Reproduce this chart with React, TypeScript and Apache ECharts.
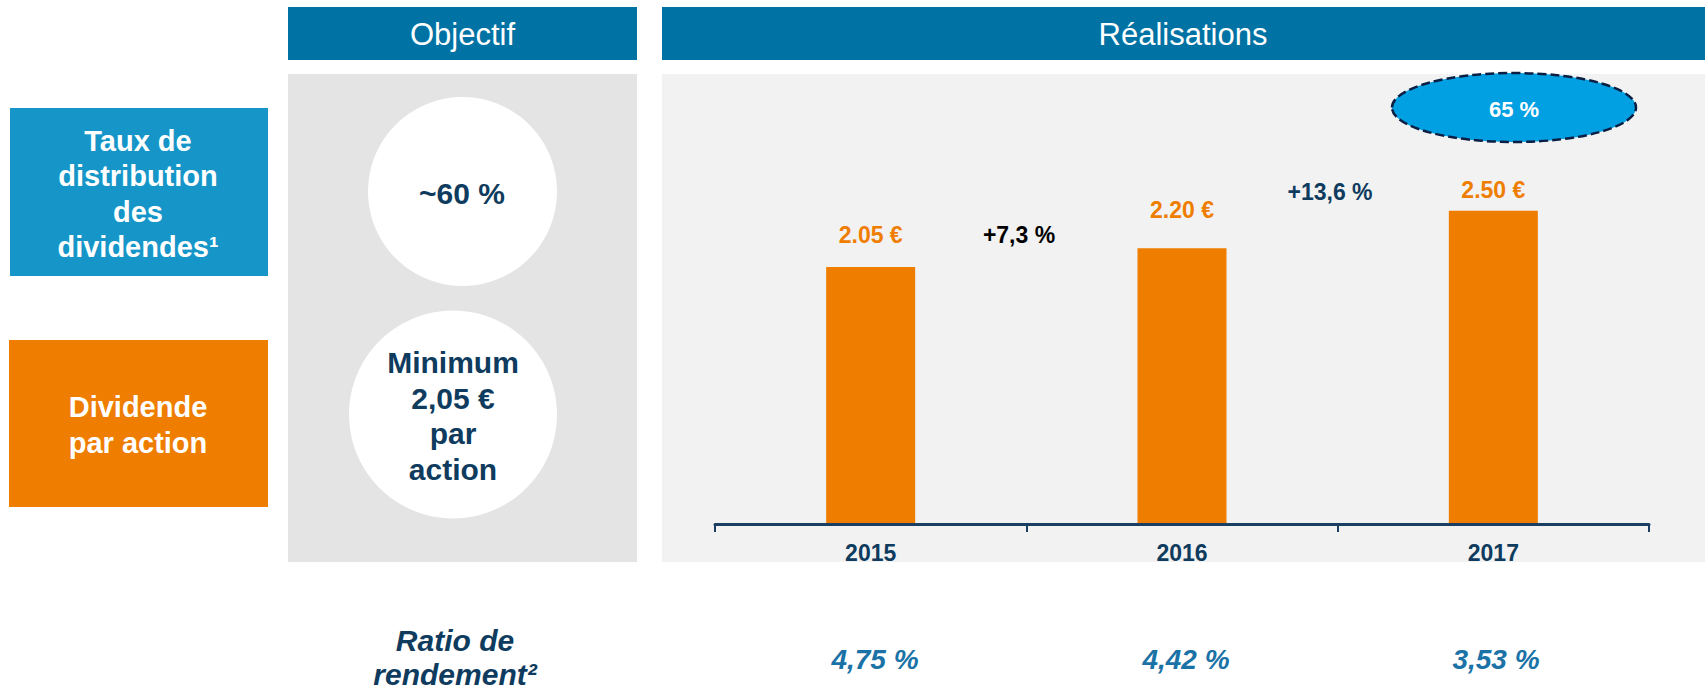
import React, { useEffect, useRef } from "react";
import * as echarts from "echarts";

// ---------- DATA ----------
const categories = ["2015", "2016", "2017"];
const dividends = [2.05, 2.2, 2.5];
const growthLabels = ["+7,3 %", "+13,6 %"];
const yieldLabels = ["4,75 %", "4,42 %", "3,53 %"];
const payoutTarget = "~60 %";
const payoutActual = "65 %";
const dividendTargetLines = ["Minimum", "2,05 €", "par", "action"];
const rowLabelPayout = ["Taux de", "distribution", "des", "dividendes¹"];
const rowLabelDividend = ["Dividende", "par action"];
const yieldTitle = ["Ratio de", "rendement²"];
const headerTarget = "Objectif";
const headerActual = "Réalisations";

// ---------- STYLE ----------
const FONT = "'Liberation Sans', Arial, Helvetica, sans-serif";
const HEADER = "#0072A3";
const CYAN_BOX = "#1696C8";
const ORANGE = "#EF7D00";
const NAVY = "#0E3B5E";
const YIELD_BLUE = "#1A72A6";
const LABEL_GAP = [21, 27, 9];

function txt(text: string, x: number, y: number, o: any = {}) {
  return {
    type: "text",
    x,
    y,
    z: 20,
    style: {
      text,
      fill: o.fill || "#fff",
      fontFamily: FONT,
      fontSize: o.fontSize || 28,
      fontWeight: o.fontWeight || "bold",
      fontStyle: o.fontStyle || "normal",
      align: "center",
      verticalAlign: "middle",
      lineHeight: o.lineHeight || undefined,
    },
  };
}

export default function App() {
  const ref = useRef<HTMLDivElement>(null);

  useEffect(() => {
    document.body.style.margin = "0";
    if (!ref.current) return;
    const chart = echarts.init(ref.current, undefined, { renderer: "svg" });

    const graphic: any[] = [
      // headers
      { type: "rect", z: 0, shape: { x: 288, y: 7, width: 349, height: 53 }, style: { fill: HEADER } },
      { type: "rect", z: 0, shape: { x: 662, y: 7, width: 1043, height: 53 }, style: { fill: HEADER } },
      txt(headerTarget, 462.5, 34, { fontWeight: "normal", fontSize: 31 }),
      txt(headerActual, 1183, 34, { fontWeight: "normal", fontSize: 31 }),
      // panels
      { type: "rect", z: 0, shape: { x: 288, y: 74, width: 349, height: 488 }, style: { fill: "#E4E4E4" } },
      { type: "rect", z: 0, shape: { x: 662, y: 74, width: 1043, height: 488 }, style: { fill: "#F2F2F2" } },
      // left row boxes
      { type: "rect", z: 0, shape: { x: 10, y: 108, width: 258, height: 168 }, style: { fill: CYAN_BOX } },
      { type: "rect", z: 0, shape: { x: 9, y: 340, width: 259, height: 167 }, style: { fill: ORANGE } },
      txt(rowLabelPayout.join("\n"), 138, 194, { fontSize: 29, lineHeight: 35.5 }),
      txt(rowLabelDividend.join("\n"), 138, 425, { fontSize: 29, lineHeight: 35.5 }),
      // target circles
      { type: "circle", z: 1, shape: { cx: 462.5, cy: 191.5, r: 94.5 }, style: { fill: "#fff" } },
      txt(payoutTarget, 462, 193, { fill: NAVY, fontSize: 30 }),
      { type: "circle", z: 1, shape: { cx: 453, cy: 414.5, r: 104 }, style: { fill: "#fff" } },
      txt(dividendTargetLines.join("\n"), 453, 416, { fill: NAVY, fontSize: 30, lineHeight: 35.5 }),
      // payout actual ellipse
      {
        type: "ellipse",
        z: 5,
        shape: { cx: 1514, cy: 107.5, rx: 122, ry: 34.5 },
        style: { fill: "#00A0E2", stroke: "#0B1F45", lineWidth: 2.5, lineDash: [9, 4] },
      },
      txt(payoutActual, 1514, 109, { fontSize: 22 }),
      // growth annotations
      txt(growthLabels[0], 1019, 235, { fill: "#000", fontSize: 23 }),
      txt(growthLabels[1], 1330, 192, { fill: NAVY, fontSize: 23 }),
      // yield row
      txt(yieldTitle.join("\n"), 455, 657, { fill: NAVY, fontSize: 30, fontStyle: "italic", lineHeight: 34 }),
      txt(yieldLabels[0], 875, 659, { fill: YIELD_BLUE, fontSize: 28, fontStyle: "italic" }),
      txt(yieldLabels[1], 1186, 659, { fill: YIELD_BLUE, fontSize: 28, fontStyle: "italic" }),
      txt(yieldLabels[2], 1496, 659, { fill: YIELD_BLUE, fontSize: 28, fontStyle: "italic" }),
    ];

    chart.setOption({
      animation: false,
      backgroundColor: "#fff",
      graphic: { elements: graphic },
      grid: { left: 715, right: 56, top: 148, bottom: 166, containLabel: false },
      xAxis: {
        type: "category",
        data: categories,
        z: 6,
        axisLine: { lineStyle: { color: "#1B3F63", width: 3 } },
        axisTick: { show: true, length: 8, alignWithLabel: false, lineStyle: { color: "#1B3F63", width: 2 } },
        axisLabel: {
          color: NAVY,
          fontFamily: FONT,
          fontSize: 23,
          fontWeight: "bold",
          margin: 17,
        },
      },
      yAxis: {
        type: "value",
        min: 0,
        max: 3,
        show: false,
        splitLine: { show: false },
      },
      series: [
        {
          type: "bar",
          z: 3,
          barWidth: 89,
          itemStyle: { color: ORANGE },
          data: dividends.map((v, i) => ({ value: v, label: { distance: LABEL_GAP[i] } })),
          label: {
            show: true,
            position: "top",
            color: ORANGE,
            fontFamily: FONT,
            fontSize: 23,
            fontWeight: "bold",
            formatter: (p: any) => p.value.toFixed(2) + " €",
          },
        },
      ],
    });

    return () => chart.dispose();
  }, []);

  return <div ref={ref} style={{ width: 1705, height: 690 }} />;
}
